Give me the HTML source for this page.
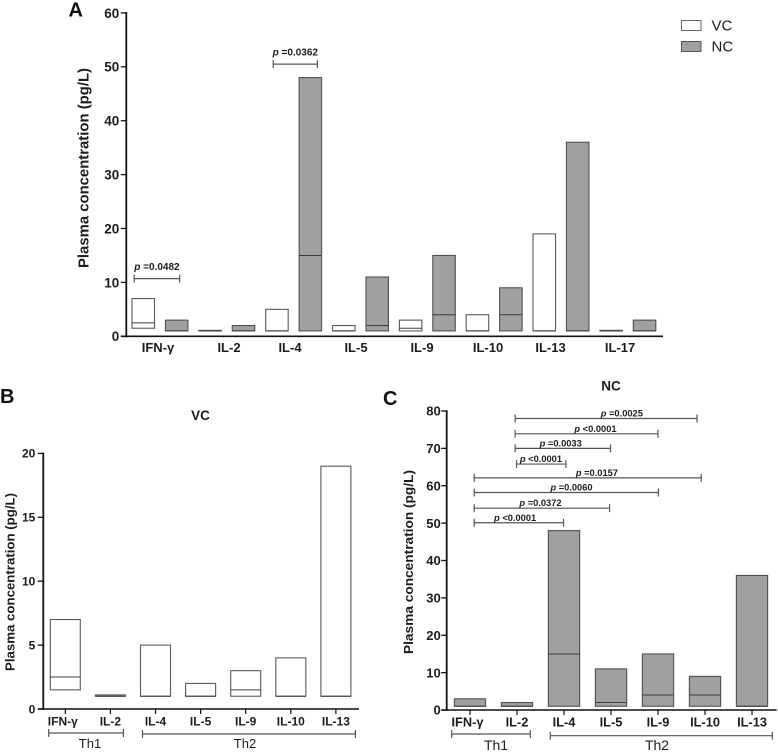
<!DOCTYPE html>
<html lang="en">
<head>
<meta charset="utf-8">
<title>Plasma cytokine concentrations</title>
<style>
html,body{margin:0;padding:0;background:#fff;width:778px;height:752px;overflow:hidden}
svg{display:block;font-family:"Liberation Sans",sans-serif;filter:blur(0.3px)}
text{fill:#1c1c1c}
</style>
</head>
<body>
<svg id="figure" xmlns="http://www.w3.org/2000/svg" width="778" height="752" viewBox="0 0 778 752">
  <rect x="0" y="0" width="778" height="752" fill="#fff"/>
  <text x="68.500" y="16.500" font-size="20" font-weight="700" style="fill:#111">A</text>
  <text x="0" y="403" font-size="20" font-weight="700" style="fill:#111">B</text>
  <text x="383" y="405" font-size="20" font-weight="700" style="fill:#111">C</text>
  <text x="200.500" y="420" font-size="13.500" font-weight="700" text-anchor="middle">VC</text>
  <text x="611" y="390.500" font-size="13.500" font-weight="700" text-anchor="middle">NC</text>
  <rect x="681.500" y="20.500" width="19.500" height="10" fill="#fff" stroke="#666" stroke-width="1"/>
  <text x="711.500" y="30.500" font-size="15">VC</text>
  <rect x="681.500" y="41.500" width="19.500" height="10" fill="#a0a0a0" stroke="#555" stroke-width="1"/>
  <text x="711.500" y="51.500" font-size="15">NC</text>
  <g id="panel-a"></g>
  <g id="panel-b"></g>
  <g id="panel-c"></g>
</svg>
<script>
const categories = ["IFN-γ", "IL-2", "IL-4", "IL-5", "IL-9", "IL-10", "IL-13", "IL-17"];
const vcLow  = [1.5, 1, 1, 1, 1, 1, 1, 1];
const vcMid  = [2.5, 1, 1, 1, 1.5, 1, 1, 1];
const vcHigh = [7, 1.1, 5, 2, 3, 4, 19, 1.1];
const ncLow  = [1, 1, 1, 1, 1, 1, 1, 1];
const ncMid  = [1, 1, 15, 2, 4, 4, 1, 1];
const ncHigh = [3, 2, 48, 11, 15, 9, 36, 3];

const ticksA = [0, 10, 20, 30, 40, 50, 60];
const ticksB = [0, 5, 10, 15, 20];
const ticksC = [0, 10, 20, 30, 40, 50, 60, 70, 80];

const aBracketFrom = [-0.27, 3.89];
const aBracketTo   = [1.09, 5.21];
const aBracketY    = [10.7, 50.5];
const aBracketText = ["=0.0482", "=0.0362"];

const cBracketFrom = [0.09, 0.09, 0.09, 0.09, 0.99, 0.96, 0.96, 0.96];
const cBracketTo   = [1.99, 2.97, 4.01, 4.92, 2.04, 2.99, 4.00, 4.83];
const cBracketY    = [50.1, 54, 58.2, 62.1, 65.8, 70, 73.9, 78];
const cBracketAt   = [0.96, 1.50, 2.16, 2.70, 1.51, 1.93, 2.67, 3.23];
const cBracketText = ["<0.0001", "=0.0372", "=0.0060", "=0.0157", "<0.0001", "=0.0033", "<0.0001", "=0.0025"];

const NS = "http://www.w3.org/2000/svg";

function mk(parent, tag, attrs, content) {
  const el = document.createElementNS(NS, tag);
  for (const k in attrs) el.setAttribute(k, attrs[k]);
  if (content !== undefined) el.textContent = content;
  parent.appendChild(el);
  return el;
}

function line(parent, x1, y1, x2, y2, color, width) {
  return mk(parent, "line", {x1: x1, y1: y1, x2: x2, y2: y2, stroke: color, "stroke-width": width});
}

function drawBar(parent, x, w, yFn, low, mid, high, fill, stroke, name) {
  const g = mk(parent, "g", {});
  
  
  const box = mk(g, "rect", {x: x, y: yFn(high), width: w, height: Math.max(yFn(low) - yFn(high), 0.6),
    fill: fill, stroke: stroke, "stroke-width": 1.1});
  
  
  const median = line(g, x, yFn(mid), x + w, yFn(mid), "#3c3c3c", 1);
  
  
}

function drawYAxis(parent, cfg, ticks) {
  const axis = line(parent, cfg.axisX, cfg.y(ticks[ticks.length - 1]) - 0.8, cfg.axisX, cfg.y(0) + 1, "#111", 1.8);
  
  
  ticks.forEach(function (t) {
    const tick = line(parent, cfg.axisX - 5.5, cfg.y(t), cfg.axisX, cfg.y(t), "#111", 1.3);
    
    
    const label = mk(parent, "text", {x: cfg.axisX - cfg.tickPad, y: cfg.y(t) + cfg.tickFont * 0.36, "text-anchor": "end",
      "font-size": cfg.tickFont, "font-weight": 700}, String(t));
    
    
  });
  const xAxis = line(parent, cfg.axisX - 5.5, cfg.y(0), cfg.axisEnd, cfg.y(0), "#111", 1.6);
  
  
  const title = mk(parent, "text", {x: 0, y: 0, "text-anchor": "middle", "font-size": cfg.titleFont, "font-weight": 700,
    textLength: cfg.titleLen, lengthAdjust: "spacingAndGlyphs",
    transform: "translate(" + cfg.titleX + " " + cfg.titleY + ") rotate(-90)"}, "Plasma concentration (pg/L)");
  
  
}

function drawBracket(parent, x1, x2, y, color, name) {
  const g = mk(parent, "g", {});
  
  
  line(g, x1, y, x2, y, color, 1.2);
  line(g, x1, y - 4, x1, y + 4, color, 1.2);
  line(g, x2, y - 4, x2, y + 4, color, 1.2);
}

function drawPValue(parent, x, y, size, text, name) {
  const t = mk(parent, "text", {x: x, y: y, "text-anchor": "middle", "font-size": size, "font-weight": 700});
  
  
  mk(t, "tspan", {"font-style": "italic"}, "p");
  mk(t, "tspan", {}, " " + text);
}

function drawGroupLabel(parent, x, y, size, text, name) {
  const t = mk(parent, "text", {x: x, y: y, "text-anchor": "middle", "font-size": size}, text);
  
  
}

/* Panel A */
(function () {
  const p = document.getElementById("panel-a");
  const cfg = {axisX: 126.3, axisEnd: 663, tickFont: 13.5, tickPad: 7, titleFont: 14.5, titleLen: 200, titleX: 88.5, titleY: 168,
    y: function (v) { return 336.3 - v * 5.39; }};
  const barX = function (i) { return 132 + i * 33.42; };
  const w = 22.5;
  const labelNudge = {"IL-2": 5, "IL-13": -3.5};
  drawYAxis(p, cfg, ticksA);
  categories.forEach(function (c, i) {
    drawBar(p, barX(2 * i), w, cfg.y, vcLow[i], vcMid[i], vcHigh[i], "#fff", "#5a5a5a", "bar-vc-" + c);
    drawBar(p, barX(2 * i + 1), w, cfg.y, ncLow[i], ncMid[i], ncHigh[i], "#a0a0a0", "#505050", "bar-nc-" + c);
    const label = mk(p, "text", {x: 158 + i * 66 + (labelNudge[c] || 0), y: 352, "text-anchor": "middle", "font-size": 13, "font-weight": 700}, c);
    
    
  });
  aBracketText.forEach(function (txt, i) {
    const x1 = barX(aBracketFrom[i]) + w / 2;
    const x2 = barX(aBracketTo[i]) + w / 2;
    const y = cfg.y(aBracketY[i]);
    drawBracket(p, x1, x2, y, "#555", "significance-bracket-a-" + i);
    drawPValue(p, (x1 + x2) / 2, y - 8.5, 10, txt, "p-value-a-" + i);
  });
})();

/* Panel B */
(function () {
  const p = document.getElementById("panel-b");
  const cfg = {axisX: 43.3, axisEnd: 359, tickFont: 12, tickPad: 8, titleFont: 13, titleLen: 178, titleX: 14.5, titleY: 582,
    y: function (v) { return 709 - v * 12.78; }};
  const center = function (i) { return 65.3 + i * 45.1; };
  const w = 30;
  drawYAxis(p, cfg, ticksB);
  categories.slice(0, 7).forEach(function (c, i) {
    drawBar(p, center(i) - w / 2, w, cfg.y, vcLow[i], vcMid[i], vcHigh[i], "#fff", "#5a5a5a", "bar-vc-" + c);
    const tick = line(p, center(i), cfg.y(0), center(i), cfg.y(0) + 5, "#111", 1.2);
    
    
    const label = mk(p, "text", {x: center(i) - (i === 0 ? 2.5 : 0), y: 725.5, "text-anchor": "middle", "font-size": 12, "font-weight": 700}, c);
    
    
  });
  drawBracket(p, center(0) - 16.6, center(1) + 13, 733, "#555", "th1-bracket");
  drawBracket(p, center(2) - 13, center(6) + 19.5, 734, "#555", "th2-bracket");
  drawGroupLabel(p, 90, 748, 13, "Th1", "th1-label");
  drawGroupLabel(p, 245, 748, 13, "Th2", "th2-label");
})();

/* Panel C */
(function () {
  const p = document.getElementById("panel-c");
  const cfg = {axisX: 446.7, axisEnd: 776.7, tickFont: 13, tickPad: 6, titleFont: 13.3, titleLen: 184, titleX: 413, titleY: 562,
    y: function (v) { return 710 - v * 3.7375; }};
  const center = function (i) { return 470 + i * 47; };
  const w = 31.3;
  drawYAxis(p, cfg, ticksC);
  categories.slice(0, 7).forEach(function (c, i) {
    drawBar(p, center(i) - w / 2, w, cfg.y, ncLow[i], ncMid[i], ncHigh[i], "#a0a0a0", "#505050", "bar-nc-" + c);
    const tick = line(p, center(i), cfg.y(0), center(i), cfg.y(0) + 5, "#111", 1.2);
    
    
    const label = mk(p, "text", {x: center(i) - (i === 0 ? 2.5 : 0), y: 726.5, "text-anchor": "middle", "font-size": 12.8, "font-weight": 700}, c);
    
    
  });
  cBracketText.forEach(function (txt, i) {
    const y = cfg.y(cBracketY[i]);
    drawBracket(p, center(cBracketFrom[i]), center(cBracketTo[i]), y, "#555", "significance-bracket-c-" + i);
    drawPValue(p, center(cBracketAt[i]), y - 2, 9.3, txt, "p-value-c-" + i);
  });
  drawBracket(p, center(0) - 18.3, center(1) + 13.3, 734, "#555", "th1-bracket");
  drawBracket(p, center(2) - 13.7, center(6) + 20.3, 735.7, "#555", "th2-bracket");
  drawGroupLabel(p, 496, 750, 14, "Th1", "th1-label");
  drawGroupLabel(p, 657, 750, 14, "Th2", "th2-label");
})();
</script>
</body>
</html>
